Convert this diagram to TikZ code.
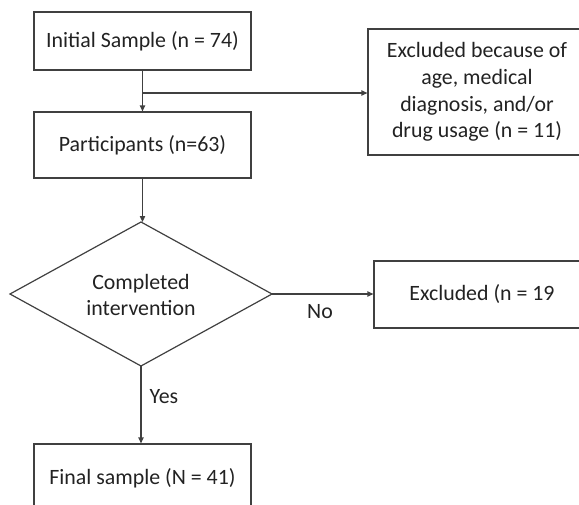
\documentclass[tikz,border=0pt]{standalone}
\usepackage{fontspec}
\setmainfont{Carlito}
\usetikzlibrary{arrows.meta}
\definecolor{linec}{HTML}{404040}
\definecolor{textc}{HTML}{222222}
\begin{document}
\begin{tikzpicture}[x=0.75pt,y=-0.75pt,
  font=\fontsize{16.4pt}{20pt}\selectfont, text=textc,
  box/.style={draw=linec, line width=0.9pt, rectangle, inner sep=2pt, align=center},
  decline/.style={draw=linec, line width=0.9pt, line join=miter},
  dectext/.style={inner sep=0pt, align=center},
  arr/.style={draw=linec, line width=0.9pt, -{Triangle[length=4.5pt,width=4pt]}},
  lbl/.style={inner sep=1pt}]
\useasboundingbox (0,0) rectangle (579,504);
\clip (0,0) rectangle (579,504);
\node[box, minimum width=162.75pt, minimum height=43.5pt] (init) at (142.5,41) {Initial Sample (n = 74)};
\node[box, minimum width=162.75pt, minimum height=49.5pt] (part) at (142.5,145) {Participants (n=63)};
\node[box, minimum width=163.5pt, minimum height=94.5pt] (exc1) at (477,92) {Excluded because of\\age, medical\\diagnosis, and/or\\drug usage (n = 11)};
\coordinate (dN) at (141,222);
\coordinate (dE) at (272,294);
\coordinate (dS) at (141,366);
\coordinate (dW) at (10,294);
\draw[decline] (dN) -- (dE) -- (dS) -- (dW) -- cycle;
\node[dectext] (dec) at (141,295) {Completed\\intervention};
\node[box, minimum width=162pt, minimum height=50.25pt] (exc2) at (482,294.5) {Excluded (n = 19};
\node[box, minimum width=162.75pt, minimum height=51pt] (final) at (142.5,478) {Final sample (N = 41)};
\coordinate (br) at (142.5,93);
\draw[arr] (init.south) -- (part.north);
\draw[arr] (br) -- (br -| exc1.west);
\draw[arr] (part.south) -- (part.south |- dN);
\draw[arr] (dE) -- (dE -| exc2.west);
\draw[arr] (dS) -- (dS |- final.north);
\node[lbl] (no) at (320,312) {No};
\node[lbl] (yes) at (164,397) {Yes};
\end{tikzpicture}
\end{document}
